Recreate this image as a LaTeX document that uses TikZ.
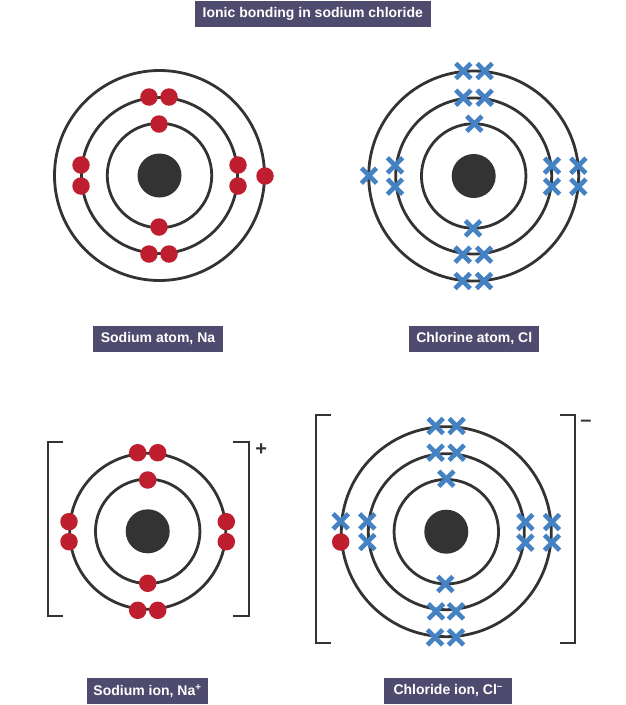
\documentclass[tikz,border=0pt]{standalone}
\usepackage{fontspec}
\setmainfont{Liberation Sans}
\usetikzlibrary{shapes.misc}
\definecolor{darkgrey}{HTML}{333333}
\definecolor{elecred}{HTML}{BE1E2D}
\definecolor{elecblue}{HTML}{4482C3}
\definecolor{labelbox}{HTML}{4F4B6E}
\tikzset{
  nucleus/.style={shape=circle,fill=darkgrey,inner sep=0pt,minimum size=44pt},
  shell/.style={shape=circle,draw=darkgrey,line width=2.8pt,inner sep=0pt},
  shellone/.style={shell,minimum size=104.5pt},
  shelltwo/.style={shell,minimum size=156pt},
  shellthree/.style={shell,minimum size=210pt},
  dotel/.style={shape=circle,fill=elecred,inner sep=0pt,minimum size=17.5pt},
  crossel/.style={shape=cross out,draw=elecblue,line width=4.6pt,inner sep=0pt,outer sep=0pt,minimum size=15.2pt},
  bracket/.style={draw=darkgrey,line width=2.2pt},
  caption/.style={fill=labelbox,text=white,inner sep=0pt,minimum height=26pt,font=\fontsize{14}{16}\selectfont\bfseries},
  charge/.style={text=darkgrey,inner sep=0pt,font=\fontsize{20}{20}\selectfont\bfseries}
}
\begin{document}
\begin{tikzpicture}[x=1pt,y=-1pt]
\useasboundingbox (0,0) rectangle (626,705);
\node (title) at (312.8,14) [caption,minimum width=235.7pt] {Ionic bonding in sodium chloride};
% sodium atom
\node (nac) at (159.5,175.5) [nucleus] {};
\node (nas1) at (159.5,175.5) [shellone] {};
\node (nas2) at (159.5,175.5) [shelltwo] {};
\node (nas3) at (159.5,175.5) [shellthree] {};
\node (na1) at (149,97) [dotel] {};
\node (na2) at (169,97) [dotel] {};
\node (na3) at (159,124) [dotel] {};
\node (na4) at (81,165) [dotel] {};
\node (na5) at (81,186) [dotel] {};
\node (na6) at (238,165) [dotel] {};
\node (na7) at (238,186) [dotel] {};
\node (na8) at (265,176) [dotel] {};
\node (na9) at (159,227) [dotel] {};
\node (na10) at (149,254) [dotel] {};
\node (na11) at (169,254) [dotel] {};
\node (natom) at (158,339) [caption,minimum width=129.4pt] {Sodium atom, Na};
% chlorine atom
\node (clc) at (473.7,176) [nucleus] {};
\node (cls1) at (473.7,176) [shellone] {};
\node (cls2) at (473.7,176) [shelltwo] {};
\node (cls3) at (473.7,176) [shellthree] {};
\node (cl1) at (463.3,71) [crossel] {};
\node (cl2) at (484.7,71) [crossel] {};
\node (cl3) at (463.3,97.7) [crossel] {};
\node (cl4) at (484.7,97.7) [crossel] {};
\node (cl5) at (474.3,123.7) [crossel] {};
\node (cl6) at (369,175.7) [crossel] {};
\node (cl7) at (395,165.3) [crossel] {};
\node (cl8) at (395,186.7) [crossel] {};
\node (cl9) at (552,165.7) [crossel] {};
\node (cl10) at (552,186.7) [crossel] {};
\node (cl11) at (578.3,165.7) [crossel] {};
\node (cl12) at (578.3,186.7) [crossel] {};
\node (cl13) at (473,228.3) [crossel] {};
\node (cl14) at (462.7,254.7) [crossel] {};
\node (cl15) at (484,254.7) [crossel] {};
\node (cl16) at (462.7,281) [crossel] {};
\node (cl17) at (484,281) [crossel] {};
\node (clatom) at (474.2,339) [caption,minimum width=130.3pt] {Chlorine atom, Cl};
% sodium ion
\node (nic) at (147.7,531.3) [nucleus] {};
\node (nis1) at (147.7,531.3) [shellone] {};
\node (nis2) at (147.7,531.3) [shelltwo] {};
\node (ni1) at (137.7,452.7) [dotel] {};
\node (ni2) at (157.7,452.7) [dotel] {};
\node (ni3) at (147.7,480) [dotel] {};
\node (ni4) at (69,521.7) [dotel] {};
\node (ni5) at (69,541.7) [dotel] {};
\node (ni6) at (226.3,521.7) [dotel] {};
\node (ni7) at (226.3,541.7) [dotel] {};
\node (ni8) at (147.7,583.3) [dotel] {};
\node (ni9) at (137.7,610.3) [dotel] {};
\node (ni10) at (157.7,610.3) [dotel] {};
\draw [bracket] (63,441.7) -- (47.7,441.7) -- (47.7,616) -- (63,616);
\draw [bracket] (233.3,441.7) -- (249.3,441.7) -- (249.3,616) -- (233.3,616);
\node (niplus) at (261.3,449.2) [charge] {+};
\node (nion) at (147.5,691) [caption,minimum width=121.6pt] {Sodium ion, Na\textsuperscript{+}};
% chloride ion
\node (cic) at (446.3,531.7) [nucleus] {};
\node (cis1) at (446.3,531.7) [shellone] {};
\node (cis2) at (446.3,531.7) [shelltwo] {};
\node (cis3) at (446.3,531.7) [shellthree] {};
\node (ci1) at (435.7,426) [crossel] {};
\node (ci2) at (456.7,426) [crossel] {};
\node (ci3) at (435.7,452.7) [crossel] {};
\node (ci4) at (456.7,452.7) [crossel] {};
\node (ci5) at (446.3,478.7) [crossel] {};
\node (ci6) at (340.7,521.3) [crossel] {};
\node (ci7) at (340.7,542) [dotel] {};
\node (ci8) at (367.3,521.3) [crossel] {};
\node (ci9) at (367.3,542) [crossel] {};
\node (ci10) at (525.3,522) [crossel] {};
\node (ci11) at (525.3,542.7) [crossel] {};
\node (ci12) at (552,522) [crossel] {};
\node (ci13) at (552,542.7) [crossel] {};
\node (ci14) at (445.3,584) [crossel] {};
\node (ci15) at (436,611.3) [crossel] {};
\node (ci16) at (456,611.3) [crossel] {};
\node (ci17) at (435,637.3) [crossel] {};
\node (ci18) at (456,637.3) [crossel] {};
\draw [bracket] (331,415) -- (315.7,415) -- (315.7,642.7) -- (331,642.7);
\draw [bracket] (560,415) -- (575.3,415) -- (575.3,642.7) -- (560,642.7);
\node (ciminus) at (586,423.5) [charge] {–};
\node (clion) at (448.2,691) [caption,minimum width=128.3pt] {Chloride ion, Cl\textsuperscript{–}};
\end{tikzpicture}
\end{document}
